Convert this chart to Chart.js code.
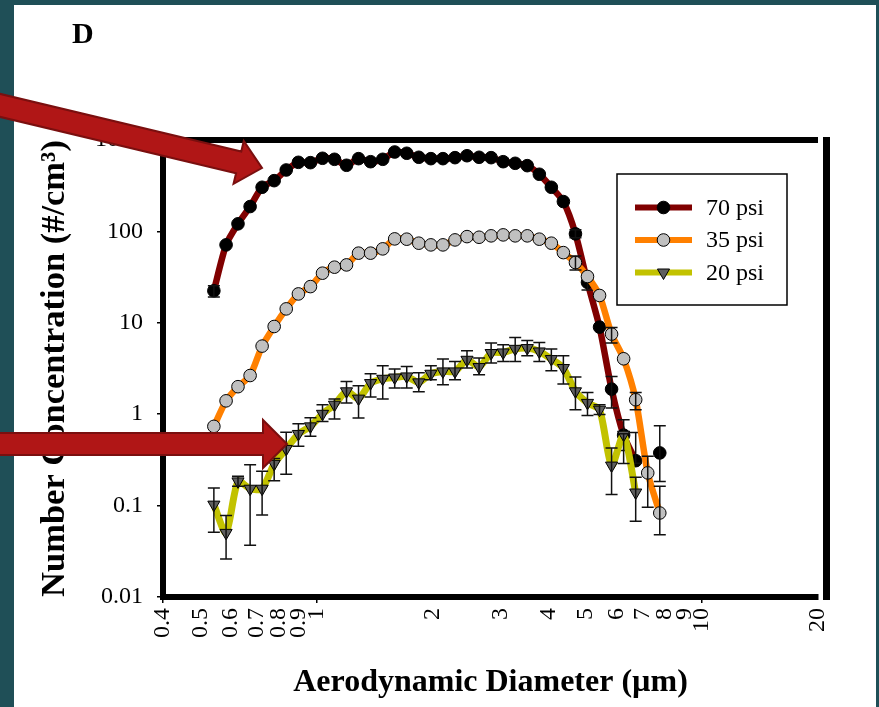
<!DOCTYPE html>
<html>
<head>
<meta charset="utf-8">
<script src="https://cdn.jsdelivr.net/npm/chart.js@4.4.1/dist/chart.umd.min.js"></script>
<style>
  html, body { margin: 0; padding: 0; }
  body { width: 879px; height: 707px; background: #1f4f57; position: relative; overflow: hidden; }
  #panel { position: absolute; left: 14px; top: 5px; width: 862px; height: 702px; background: #fff; }
  #grafico { position: absolute; left: 0; top: 0; }
</style>
</head>
<body>
<div id="panel"></div>
<canvas id="grafico" width="879" height="707"></canvas>
<script>
// APS channel midpoints (µm)
const diameters = [0.542, 0.583, 0.626, 0.673, 0.723, 0.777, 0.835, 0.898, 0.965, 1.037,
  1.114, 1.197, 1.286, 1.382, 1.486, 1.596, 1.715, 1.843, 1.981, 2.129,
  2.288, 2.458, 2.642, 2.839, 3.051, 3.278, 3.523, 3.786, 4.068, 4.371,
  4.698, 5.048, 5.425, 5.829, 6.264, 6.732, 7.234, 7.774];

const seriesNames = ['70 psi', '35 psi', '20 psi'];

// number concentration (#/cm3)
const psi70 = [22.4, 71.2, 121, 187, 304, 359, 470, 570, 565, 631,
  615, 529, 625, 579, 615, 739, 716, 647, 625, 625,
  641, 673, 647, 641, 579, 556, 524, 422, 304, 212,
  94, 27.7, 8.97, 1.88, 0.59, 0.31, null, 0.377];
const psi35 = [0.736, 1.40, 2.0, 2.65, 5.56, 9.11, 14.2, 20.7, 24.9, 34.9,
  40.6, 43.0, 57.8, 57.8, 64.4, 82.8, 82.2, 74.3, 71.2, 71.2,
  80.7, 87.7, 86.3, 89.4, 91.6, 89.4, 89.4, 82.2, 74.3, 58.6,
  45.6, 32.1, 19.9, 7.52, 4.04, 1.44, 0.228, 0.083];
const psi20 = [0.1025, 0.0503, 0.184, 0.153, 0.153, 0.286, 0.417, 0.608, 0.736, 1.01,
  1.27, 1.78, 1.48, 2.19, 2.44, 2.52, 2.59, 2.23, 2.77, 2.94,
  2.94, 3.94, 3.28, 4.67, 4.74, 5.19, 5.29, 4.86, 4.01, 3.20,
  1.78, 1.33, 1.12, 0.274, 0.597, 0.139];

// error bar ends (upper / lower), null = too small to see
const psi70Hi = [25.4, null, null, null, null, null, null, null, null, null,
  null, null, null, null, null, null, null, null, null, null,
  null, null, null, null, null, null, null, null, null, null,
  104, 32.7, null, 2.59, 0.87, 0.63, null, 0.749];
const psi70Lo = [19.2, null, null, null, null, null, null, null, null, null,
  null, null, null, null, null, null, null, null, null, null,
  null, null, null, null, null, null, null, null, null, null,
  85, 22.9, null, 1.17, 0.40, 0.29, null, 0.184];
const psi35Hi = [null, null, null, null, null, null, null, null, null, null,
  null, null, null, null, null, null, null, null, null, null,
  null, null, null, null, null, null, null, null, null, null,
  53.9, null, null, 8.88, null, 1.73, 0.346, 0.163];
const psi35Lo = [null, null, null, null, null, null, null, null, null, null,
  null, null, null, null, null, null, null, null, null, null,
  null, null, null, null, null, null, null, null, null, null,
  37.9, null, null, 6.0, null, 1.12, 0.0958, 0.048];
const psi20Hi = [0.156, 0.0778, 0.209, 0.279, 0.237, 0.327, 0.633, 0.787, 0.917, 1.27,
  1.47, 2.28, 2.05, 2.77, 3.39, 3.12, 3.33, 2.84, 3.39, 4.01,
  3.78, 4.94, 4.11, 6.0, 5.75, 6.9, 6.41, 6.09, 5.16, 4.36,
  2.55, 1.73, 1.27, 0.427, 0.612, 0.204];
const psi20Lo = [0.051, 0.0261, 0.163, 0.0368, 0.0791, 0.1875, 0.22, 0.445, 0.572, 0.83,
  0.886, 1.33, 0.909, 1.54, 1.47, 1.93, 1.93, 1.76, 2.38, 2.10,
  2.38, 3.20, 2.70, 3.63, 3.78, 3.78, 4.36, 3.78, 2.99, 2.14,
  1.12, 0.97, 0.99, 0.132, 0.288, 0.0673];

const xTicks = [0.4, 0.5, 0.6, 0.7, 0.8, 0.9, 1, 2, 3, 4, 5, 6, 7, 8, 9, 10, 20];
const yTicks = [0.01, 0.1, 1, 10, 100, 1000];

const serif = "'Liberation Serif', 'Times New Roman', serif";
const errores = [[psi70Hi, psi70Lo], [psi35Hi, psi35Lo], [psi20Hi, psi20Lo]];

function puntos(valores) {
  return valores.map((v, i) => ({ x: diameters[i], y: v }));
}

function flecha(ctx, x0, y0, x1, y1, shaft, head, headLen) {
  const dx = x1 - x0, dy = y1 - y0;
  const len = Math.hypot(dx, dy);
  const ux = dx / len, uy = dy / len;
  const nx = -uy, ny = ux;
  const bx = x1 - ux * headLen, by = y1 - uy * headLen;
  ctx.beginPath();
  ctx.moveTo(x0 + nx * shaft, y0 + ny * shaft);
  ctx.lineTo(bx + nx * shaft, by + ny * shaft);
  ctx.lineTo(bx + nx * head, by + ny * head);
  ctx.lineTo(x1, y1);
  ctx.lineTo(bx - nx * head, by - ny * head);
  ctx.lineTo(bx - nx * shaft, by - ny * shaft);
  ctx.lineTo(x0 - nx * shaft, y0 - ny * shaft);
  ctx.closePath();
  ctx.fillStyle = '#b01616';
  ctx.fill();
  ctx.strokeStyle = '#7a0f0f';
  ctx.lineWidth = 2;
  ctx.stroke();
}

function marcador(ctx, ds, x, y) {
  ctx.save();
  ctx.fillStyle = ds.pointBackgroundColor;
  ctx.strokeStyle = ds.pointBorderColor;
  ctx.lineWidth = 1;
  ctx.beginPath();
  if (ds.pointStyle === 'triangle') {
    const r = ds.pointRadius;
    ctx.moveTo(x, y + r);
    ctx.lineTo(x - r * 0.866, y - r * 0.5);
    ctx.lineTo(x + r * 0.866, y - r * 0.5);
    ctx.closePath();
  } else {
    ctx.arc(x, y, ds.pointRadius, 0, Math.PI * 2);
  }
  ctx.fill();
  ctx.stroke();
  ctx.restore();
}

const extras = {
  id: 'extras',
  afterDatasetDraw(chart, args) {
    const { ctx, scales: { x, y } } = chart;
    const [hi, lo] = errores[args.index];
    ctx.save();
    ctx.strokeStyle = '#111';
    ctx.lineWidth = 1.5;
    hi.forEach((h, i) => {
      if (h == null) return;
      const px = x.getPixelForValue(diameters[i]);
      const pt = y.getPixelForValue(h);
      const pb = y.getPixelForValue(lo[i]);
      ctx.beginPath();
      ctx.moveTo(px, pt); ctx.lineTo(px, pb);
      ctx.moveTo(px - 6, pt); ctx.lineTo(px + 6, pt);
      ctx.moveTo(px - 6, pb); ctx.lineTo(px + 6, pb);
      ctx.stroke();
    });
    ctx.restore();
  },
  afterDraw(chart) {
    const { ctx, chartArea: a } = chart;
    ctx.save();
    // top edge and detached right bar
    ctx.fillStyle = '#000';
    ctx.fillRect(a.left - 3, a.top - 3, a.right - a.left + 3, 6);
    ctx.fillRect(a.right + 5, a.top - 3, 7, a.bottom - a.top + 6);

    // legend
    const lx = 617, ly = 174, lw = 170, lh = 131;
    ctx.fillStyle = '#fff';
    ctx.fillRect(lx, ly, lw, lh);
    ctx.strokeStyle = '#000';
    ctx.lineWidth = 1.5;
    ctx.strokeRect(lx, ly, lw, lh);
    chart.data.datasets.forEach((ds, i) => {
      const yy = 207.5 + i * 32.5;
      ctx.strokeStyle = ds.borderColor;
      ctx.lineWidth = 6;
      ctx.beginPath();
      ctx.moveTo(635, yy); ctx.lineTo(692, yy);
      ctx.stroke();
      marcador(ctx, ds, 663.5, yy);
      ctx.fillStyle = '#000';
      ctx.font = '24px ' + serif;
      ctx.textBaseline = 'middle';
      ctx.textAlign = 'left';
      ctx.fillText(ds.label, 706, yy + 1);
    });

    // panel letter
    ctx.font = 'bold 30px ' + serif;
    ctx.textBaseline = 'alphabetic';
    ctx.fillStyle = '#000';
    ctx.fillText('D', 72, 43);

    // annotation arrows
    flecha(ctx, -20, 100.6, 262, 168, 11.2, 22, 24);
    flecha(ctx, -20, 444, 287, 444, 11, 24, 24);
    ctx.restore();
  }
};

const ctx = document.getElementById('grafico').getContext('2d');
window.grafico = new Chart(ctx, {
  type: 'line',
  data: {
    datasets: [
      {
        label: seriesNames[0],
        data: puntos(psi70),
        borderColor: '#800000',
        borderWidth: 6.5,
        pointStyle: 'circle',
        pointRadius: 6.3,
        pointBackgroundColor: '#000',
        pointBorderColor: '#000',
        pointBorderWidth: 1,
        tension: 0.25,
        spanGaps: false,
        order: 3
      },
      {
        label: seriesNames[1],
        data: puntos(psi35),
        borderColor: '#ff8000',
        borderWidth: 6.5,
        pointStyle: 'circle',
        pointRadius: 6.3,
        pointBackgroundColor: '#c0c0c0',
        pointBorderColor: '#000',
        pointBorderWidth: 1,
        tension: 0.25,
        order: 2
      },
      {
        label: seriesNames[2],
        data: puntos(psi20),
        borderColor: '#c2c200',
        borderWidth: 7,
        pointStyle: 'triangle',
        pointRotation: 180,
        pointRadius: 7,
        pointBackgroundColor: '#5f5f5f',
        pointBorderColor: '#000',
        pointBorderWidth: 1,
        tension: 0.25,
        order: 1
      }
    ]
  },
  options: {
    responsive: false,
    animation: false,
    devicePixelRatio: 1,
    layout: { padding: { left: 14, top: 140, right: 61, bottom: 0 } },
    plugins: { legend: { display: false }, tooltip: { enabled: false } },
    scales: {
      x: {
        type: 'logarithmic',
        min: 0.4,
        max: 20,
        afterBuildTicks(scale) { scale.ticks = xTicks.map(v => ({ value: v })); },
        afterFit(scale) { scale.height = 110; },
        ticks: {
          autoSkip: false,
          minRotation: 90,
          maxRotation: 90,
          padding: 5,
          color: '#000',
          font: { family: serif, size: 24 },
          callback: v => String(v)
        },
        grid: {
          drawOnChartArea: false,
          tickLength: 6,
          lineWidth: 1.5,
          color: c => (c.tick && [0.4, 1, 10].includes(c.tick.value)) ? '#000' : 'rgba(0,0,0,0)'
        },
        border: { display: true, color: '#000', width: 6 },
        title: {
          display: true,
          text: 'Aerodynamic Diameter (µm)',
          color: '#000',
          font: { family: serif, size: 32, weight: 'bold' },
          padding: { top: 0, bottom: 5 }
        }
      },
      y: {
        type: 'logarithmic',
        min: 0.01,
        max: 1000,
        afterBuildTicks(scale) { scale.ticks = yTicks.map(v => ({ value: v })); },
        afterFit(scale) { scale.width = 149; },
        ticks: {
          padding: 14,
          color: '#000',
          font: { family: serif, size: 24 },
          callback: v => String(v)
        },
        grid: { drawOnChartArea: false, tickLength: 6, lineWidth: 1.5, color: '#000' },
        border: { display: true, color: '#000', width: 6 },
        title: {
          display: true,
          text: 'Number Concentration (#/cm³)',
          color: '#000',
          font: { family: serif, size: 34.5, weight: 'bold' },
          padding: { top: 20, bottom: 0 }
        }
      }
    }
  },
  plugins: [extras]
});
</script>
</body>
</html>
